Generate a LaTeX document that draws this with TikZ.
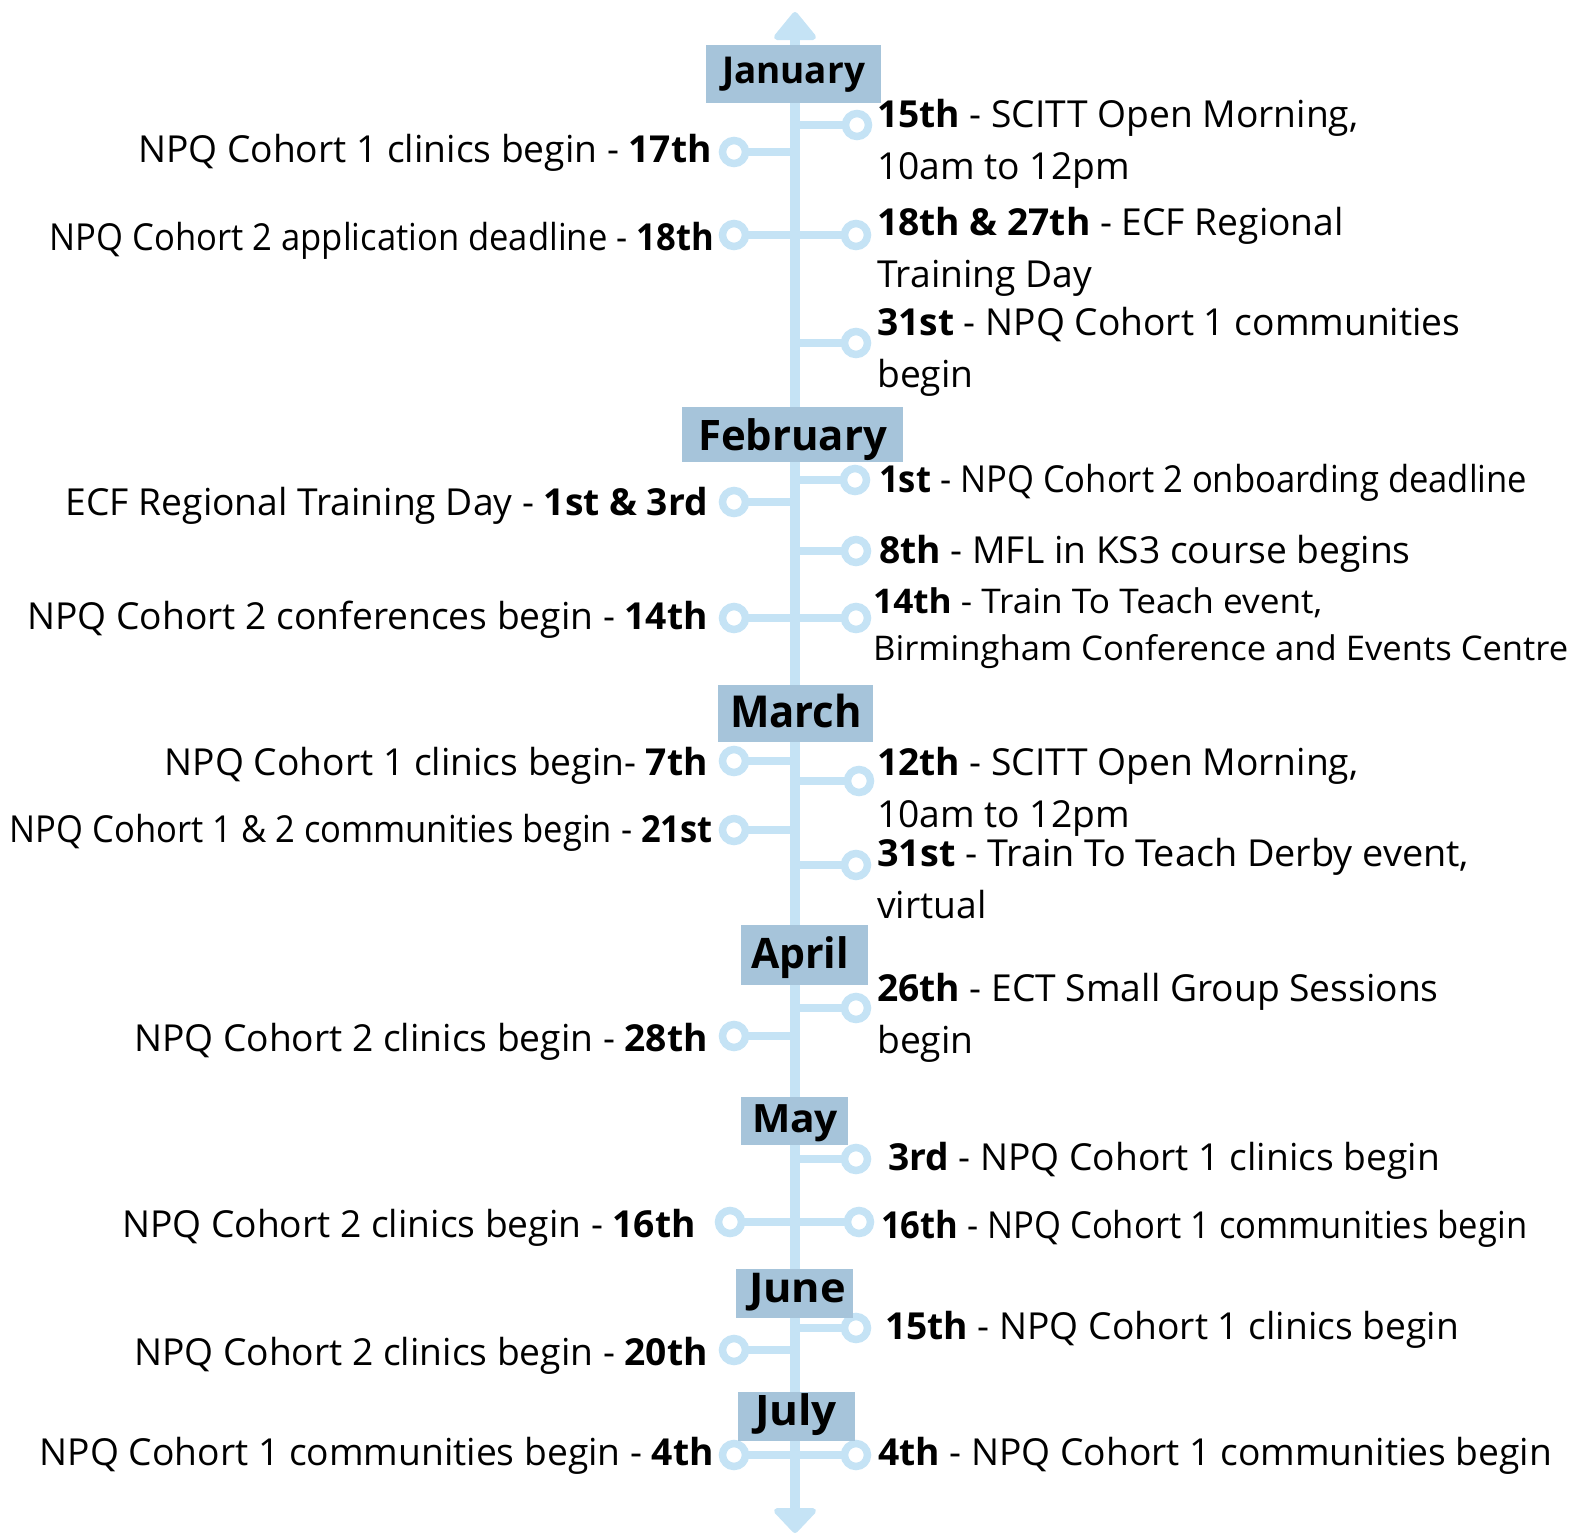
\documentclass[tikz,border=0pt]{standalone}
\usepackage{fontspec}
\usepackage{graphicx}
\setmainfont{Open Sans}
\definecolor{axisblue}{HTML}{C5E3F5}
\definecolor{monthblue}{HTML}{A6C4DA}
\newcommand{\fitw}[2]{\resizebox{#1}{\height}{#2}}
\tikzset{
  axisline/.style={line width=10.5pt, draw=axisblue},
  branch/.style={line width=8pt, draw=axisblue},
  dot/.style={circle, inner sep=0pt, minimum size=30pt},
  monthbox/.style={fill=monthblue, inner sep=0pt},
  monthtext/.style={anchor=base, inner sep=0pt, font=\bfseries},
  ltext/.style={anchor=base east, inner sep=0pt, font=\fontsize{37.2}{52}\selectfont},
  rtext/.style={anchor=base west, inner sep=0pt, align=left, font=\fontsize{37.2}{52}\selectfont},
  stext/.style={anchor=base west, inner sep=0pt, align=left, font=\fontsize{34}{47}\selectfont},
  arrowhead/.style={fill=axisblue, draw=axisblue, line width=6pt, line join=round},
  ring/.style={draw=axisblue, line width=7.5pt, fill=white},
}
\begin{document}
\begin{tikzpicture}[x=1pt,y=-1pt]
\useasboundingbox (0,0) rectangle (1569,1534);
% axis
\coordinate (top) at (795,40);
\coordinate (bot) at (795,1508);
\draw[axisline] (top) -- (bot);
\draw[arrowhead] (795,15) -- (777,37) -- (813,37) -- cycle;
\draw[arrowhead] (795,1530) -- (777,1511) -- (813,1511) -- cycle;

% axis attachment points
\foreach \n/\y in {l1/152,l2/235,l3/502,l4/618,l5/761,l6/830,l7/1036,l8/1222,l9/1350,l10/1455,
                   r1/125,r2/235,r3/343,r4/480,r5/551,r6/618,r7/781,r8/865,r9/1008,r10/1159,r11/1222,r12/1328,r13/1455}
  \coordinate (a\n) at (795,\y);

% left dots
\node[dot] (l1) at (734,152) {};
\node[dot] (l2) at (734,235) {};
\node[dot] (l3) at (734,502) {};
\node[dot] (l4) at (734,618) {};
\node[dot] (l5) at (734,761) {};
\node[dot] (l6) at (734,830) {};
\node[dot] (l7) at (734,1036) {};
\node[dot] (l8) at (730,1222) {};
\node[dot] (l9) at (734,1350) {};
\node[dot] (l10) at (734,1455) {};
% right dots
\node[dot] (r1) at (857,125) {};
\node[dot] (r2) at (856,235) {};
\node[dot] (r3) at (856,343) {};
\node[dot] (r4) at (855,480) {};
\node[dot] (r5) at (856,551) {};
\node[dot] (r6) at (856,618) {};
\node[dot] (r7) at (859,781) {};
\node[dot] (r8) at (856,865) {};
\node[dot] (r9) at (856,1008) {};
\node[dot] (r10) at (856,1159) {};
\node[dot] (r11) at (859,1222) {};
\node[dot] (r12) at (856,1328) {};
\node[dot] (r13) at (856,1455) {};

\foreach \n in {l1,l2,l3,l4,l5,l6,l7,l8,l9,l10,r1,r2,r3,r4,r5,r6,r7,r8,r9,r10,r11,r12,r13}
  \draw[branch] (a\n) -- (\n.center);
\foreach \n in {l1,l2,l3,l4,l5,l6,l7,l8,l9,l10,r1,r2,r3,r4,r5,r6,r7,r8,r9,r10,r11,r12,r13}
  \draw[ring] (\n.center) circle (11.5pt);

% month boxes
\node[monthbox, minimum width=175pt, minimum height=58pt] (jan) at (793.5,74) {};
\node[monthbox, minimum width=221pt, minimum height=55pt] (feb) at (792.5,434.5) {};
\node[monthbox, minimum width=155pt, minimum height=57pt] (mar) at (795.5,713.5) {};
\node[monthbox, minimum width=127pt, minimum height=60pt] (apr) at (804.5,955) {};
\node[monthbox, minimum width=107pt, minimum height=48pt] (may) at (794.5,1121) {};
\node[monthbox, minimum width=117pt, minimum height=49pt] (jun) at (794.5,1293.5) {};
\node[monthbox, minimum width=117pt, minimum height=49pt] (jul) at (796.5,1416.5) {};
% month labels
\node[monthtext] (janl) at (793.5,83) {\fontsize{37}{37}\selectfont\fitw{143pt}{January}};
\node[monthtext] (febl) at (792.5,450) {\fontsize{42}{42}\selectfont\fitw{189pt}{February}};
\node[monthtext] (marl) at (796,727) {\fontsize{44}{44}\selectfont\fitw{132pt}{March}};
\node[monthtext] (aprl) at (800,968) {\fontsize{42}{42}\selectfont\fitw{98pt}{April}};
\node[monthtext] (mayl) at (795,1132) {\fontsize{39}{39}\selectfont\fitw{86pt}{May}};
\node[monthtext] (junl) at (797.5,1302) {\fontsize{41}{41}\selectfont\fitw{97pt}{June}};
\node[monthtext] (jull) at (796,1425) {\fontsize{42}{42}\selectfont\fitw{82pt}{July}};

% left texts
\node[ltext] (tl1) at (712,162) {NPQ Cohort 1 clinics begin - \textbf{17th}};
\node[ltext] (tl2) at (714,250) {\fitw{664pt}{NPQ Cohort 2 application deadline - \textbf{18th}}};
\node[ltext] (tl3) at (708,515) {ECF Regional Training Day - \textbf{1st \& 3rd}};
\node[ltext] (tl4) at (708,629) {NPQ Cohort 2 conferences begin - \textbf{14th}};
\node[ltext] (tl5) at (708,775) {NPQ Cohort 1 clinics begin- \textbf{7th}};
\node[ltext] (tl6) at (713,842) {\fitw{703pt}{NPQ Cohort 1 \& 2 communities begin - \textbf{21st}}};
\node[ltext] (tl7) at (708,1051) {NPQ Cohort 2 clinics begin - \textbf{28th}};
\node[ltext] (tl8) at (696,1237) {NPQ Cohort 2 clinics begin - \textbf{16th}};
\node[ltext] (tl9) at (708,1365) {NPQ Cohort 2 clinics begin - \textbf{20th}};
\node[ltext] (tl10) at (714,1465) {NPQ Cohort 1 communities begin - \textbf{4th}};

% right texts (anchored at the baseline of the last line)
\node[rtext] (tr1) at (877,179) {\textbf{15th} - SCITT Open Morning,\\10am to 12pm};
\node[rtext] (tr2) at (877,287) {\textbf{18th \& 27th} - ECF Regional\\Training Day};
\node[rtext] (tr3) at (877,387) {\textbf{31st} - NPQ Cohort 1 communities\\begin};
\node[rtext] (tr4) at (879,492) {\fitw{648pt}{\textbf{1st} - NPQ Cohort 2 onboarding deadline}};
\node[rtext] (tr5) at (879,563) {\textbf{8th} - MFL in KS3 course begins};
\node[stext] (tr6) at (873,660) {\fitw{449pt}{\textbf{14th} - Train To Teach event,}\\\fitw{695pt}{Birmingham Conference and Events Centre}};
\node[rtext] (tr7) at (877,827) {\textbf{12th} - SCITT Open Morning,\\10am to 12pm};
\node[rtext] (tr8) at (877,918) {\fitw{592pt}{\textbf{31st} - Train To Teach Derby event,}\\virtual};
\node[rtext] (tr9) at (877,1053) {\textbf{26th} - ECT Small Group Sessions\\begin};
\node[rtext] (tr10) at (888,1170) {\textbf{3rd} - NPQ Cohort 1 clinics begin};
\node[rtext] (tr11) at (881,1238) {\fitw{646pt}{\textbf{16th} - NPQ Cohort 1 communities begin}};
\node[rtext] (tr12) at (885,1339) {\textbf{15th} - NPQ Cohort 1 clinics begin};
\node[rtext] (tr13) at (878,1465) {\textbf{4th} - NPQ Cohort 1 communities begin};
\end{tikzpicture}
\end{document}
